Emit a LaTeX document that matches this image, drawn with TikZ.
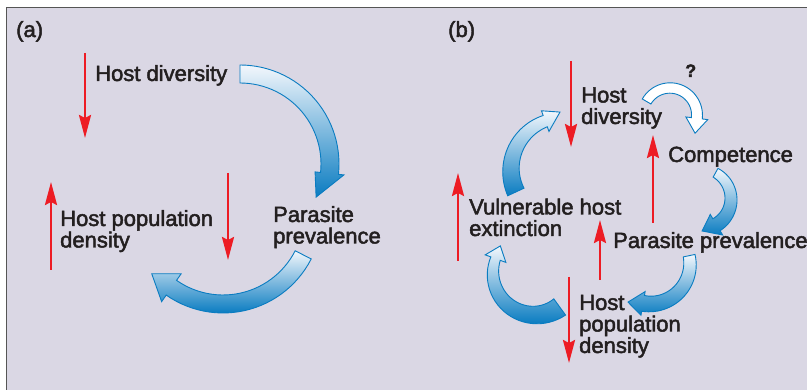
\documentclass[tikz,border=0pt]{standalone}
\usepackage{fontspec}
\setmainfont{Liberation Sans}[RawFeature={embolden=2.2}]
\usepackage{tikz}
\usetikzlibrary{positioning,arrows.meta}
\definecolor{bg}{HTML}{DAD7E4}
\definecolor{frm}{HTML}{555555}
\definecolor{indred}{HTML}{ED1C24}
\definecolor{arr}{HTML}{0A7CC1}
\definecolor{arrlt}{HTML}{F3F7FC}
\definecolor{ink}{HTML}{231F20}
\tikzset{
  >={Stealth[length=23pt,width=12pt,inset=3pt]},
  txt/.style={inner sep=0pt, anchor=base west, align=left, text=ink, font=\fontsize{22}{21.5}\selectfont},
  ind/.style={->, line width=2.4pt, draw=indred},
  flux/.style={draw=arr, line width=0.9pt, top color=arrlt, bottom color=arr},
  qflux/.style={draw=arr, line width=0.9pt, fill=white},
}
% fat curved arrow: style, centre, radius, start, neck angle, tip (angle:radius), tail/neck/head half widths
\newcommand\fatarc[9]{%
  \path[#1,shift={(#2)}]
    plot[domain=#4:#5,samples=30,variable=\t] (\t:{#3+#7+(#8-#7)*(\t-(#4))/((#5)-(#4))})
    -- (#5:{#3+#9}) -- (#6) -- (#5:{#3-#9})
    -- plot[domain=#5:#4,samples=30,variable=\t] (\t:{#3-#7-(#8-#7)*(\t-(#4))/((#5)-(#4))})
    -- cycle;
}

\begin{document}
\begin{tikzpicture}[x=1pt,y=1pt]
  \useasboundingbox (0,0) rectangle (807,390);
  \fill[white] (0,0) rectangle (807,390);
  \fill[bg] (6.5,0) rectangle (807,382.5);
  \draw[frm,line width=1.7pt] (6.5,0) -- (6.5,382.5) -- (807,382.5);

  % (a) -- multi-line labels sit on the baseline of their last line
  \node[txt] (lab-a) at (16,353) {(a)};
  \node[txt] (hd-a) at (95,309) {Host diversity};
  \node[txt] (hpd-a) at (60,142.5) {Host population\\density};
  \node[txt] (pp-a) at (273,146.5) {Parasite\\prevalence};
  \draw[ind] (85,337) -- (85,252);
  \draw[ind] (51,120) -- (51,208);
  \draw[ind] (228,217) -- (228,130);
  \coordinate (ca1) at (240,226);
  \coordinate (ca2) at (223,176);
  \fatarc{flux}{ca1}{90}{90}{-6}{-23.5:83}{9}{9}{14.5}
  \fatarc{flux}{ca2}{90}{-27}{-125}{-140:93}{9}{9}{17}

  % (b)
  \node[txt] (lab-b) at (448,353) {(b)};
  \node[txt] (hd-b) at (581,266) {Host\\diversity};
  \node[txt,font=\fontsize{18}{18}\selectfont\bfseries] (q) at (685,313) {?};
  \node[txt] (comp) at (668,228) {Competence};
  \node[txt] (pp-b) at (613,142) {Parasite prevalence};
  \node[txt] (vhe) at (469,154) {Vulnerable host\\extinction};
  \node[txt] (hpd-b) at (579,37) {Host\\population\\density};
  \draw[ind] (571,329) -- (571,243);
  \draw[ind] (653,167) -- (653,255);
  \draw[ind] (600,110) -- (600,170);
  \draw[ind] (458,129) -- (458,217);
  \draw[ind] (569,113) -- (569,27);
  \coordinate (cq) at (670,275);
  \coordinate (cb1) at (563,220);
  \coordinate (cb2) at (535,117);
  \coordinate (cb3) at (701,191);
  \coordinate (cb4) at (650,126);
  \fatarc{qflux}{cq}{27}{150}{-7}{-36:31}{5}{5.5}{11}
  \fatarc{flux}{cb1}{52}{205}{110}{93:58}{9}{6}{11}
  \fatarc{flux}{cb2}{42}{-54}{-200}{-218:44}{10}{5}{11}
  \fatarc{flux}{cb3}{30}{61}{-59}{-88:32}{5}{7}{12}
  \fatarc{flux}{cb4}{40}{12}{-100}{-120:44}{6}{8}{12}
\end{tikzpicture}
\end{document}
